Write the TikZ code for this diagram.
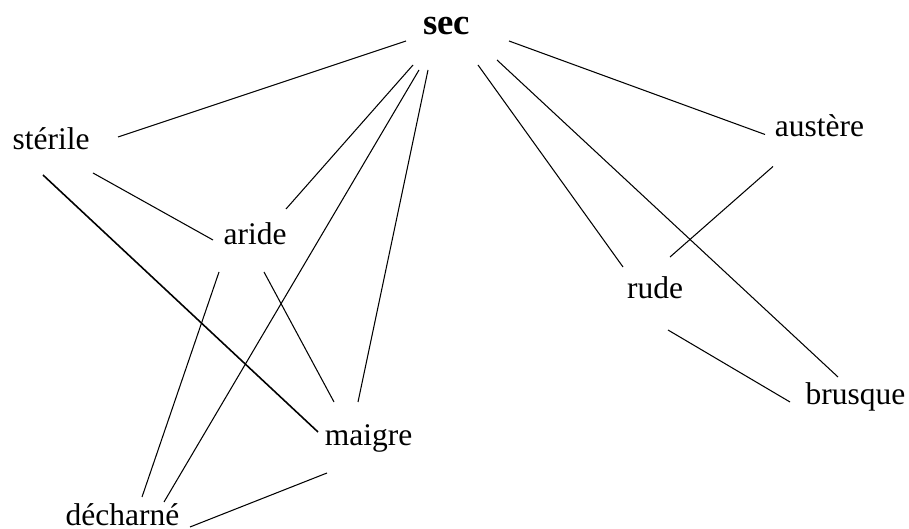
\documentclass[tikz,border=0pt]{standalone}
\usepackage{fontspec}
\setmainfont{Liberation Serif}
\usepackage{tikz}

\tikzset{
  word/.style={inner sep=0pt, anchor=base, font=\fontsize{12}{14}\selectfont},
  headword/.style={word, font=\fontsize{14}{16}\selectfont\bfseries},
  link/.style={line width=0.4pt, color=black}
}

\begin{document}
\begin{tikzpicture}[x=0.381pt, y=-0.381pt]
\useasboundingbox (0,0) rectangle (909,529);
% words
\node[headword] (sec) at (446.5,35) {sec};
\node[word] (sterile) at (51,150) {stérile};
\node[word] (aride) at (255,245) {aride};
\node[word] (maigre) at (368.5,446) {maigre};
\node[word] (decharne) at (122.5,526) {décharné};
\node[word] (austere) at (819.5,136.5) {austère};
\node[word] (rude) at (655,299) {rude};
\node[word] (brusque) at (855.5,405) {brusque};
% links from sec
\draw[link] ([shift={(-40.5,6)}]sec.base) -- ([shift={(67,-13)}]sterile.base);
\draw[link] ([shift={(62.5,6)}]sec.base) -- ([shift={(-54.5,-2)}]austere.base);
\draw[link] ([shift={(-33.5,30)}]sec.base) -- ([shift={(31,-36)}]aride.base);
\draw[link] ([shift={(-27.5,35)}]sec.base) -- ([shift={(41.5,-24)}]decharne.base);
\draw[link] ([shift={(-18.5,35)}]sec.base) -- ([shift={(-10.5,-44)}]maigre.base);
\draw[link] ([shift={(31.5,30)}]sec.base) -- ([shift={(-32,-32)}]rude.base);
\draw[link] ([shift={(50.5,25)}]sec.base) -- ([shift={(-17.5,-28)}]brusque.base);
% other links
\draw[link] ([shift={(42,23)}]sterile.base) -- ([shift={(-42,-5)}]aride.base);
\draw[link, line width=0.6pt] ([shift={(-8,25)}]sterile.base) -- ([shift={(-50.5,-14)}]maigre.base);
\draw[link] ([shift={(-36,27)}]aride.base) -- ([shift={(19.5,-29)}]decharne.base);
\draw[link] ([shift={(9,27)}]aride.base) -- ([shift={(-34.5,-44)}]maigre.base);
\draw[link] ([shift={(-41.5,27)}]maigre.base) -- ([shift={(67.5,1)}]decharne.base);
\draw[link] ([shift={(-46.5,30)}]austere.base) -- ([shift={(15,-42)}]rude.base);
\draw[link] ([shift={(13,31)}]rude.base) -- ([shift={(-65.5,-3)}]brusque.base);
\end{tikzpicture}
\end{document}
